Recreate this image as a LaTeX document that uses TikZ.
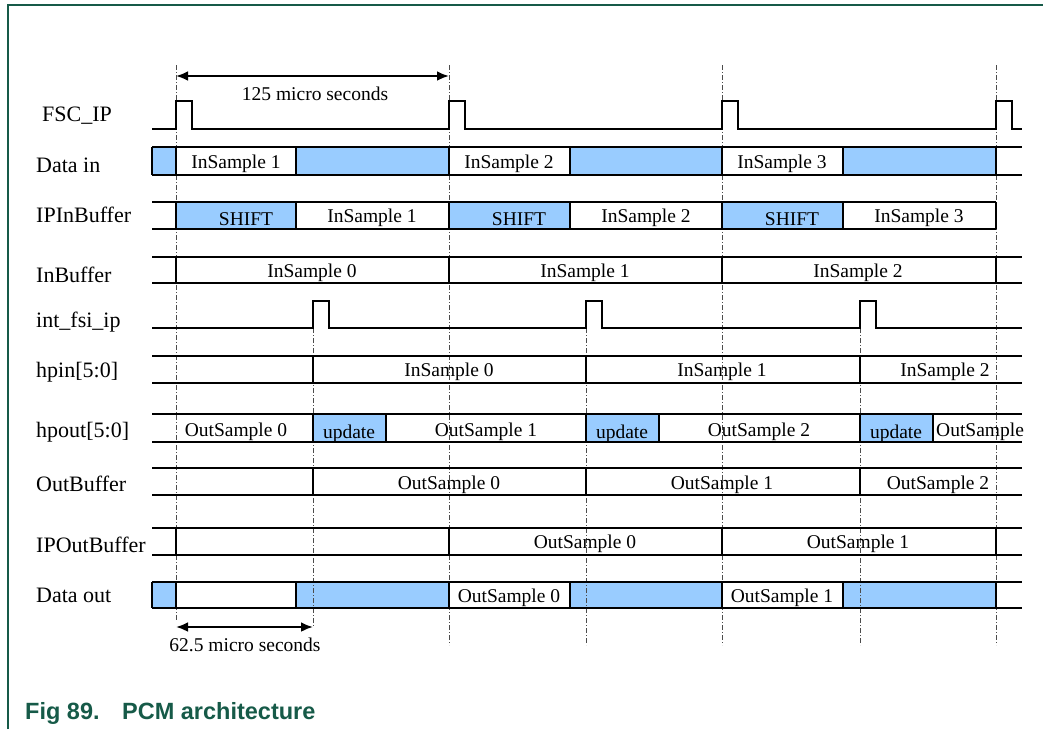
\documentclass[tikz,border=0pt]{standalone}
\usepackage{fontspec}
\setmainfont{Liberation Serif}
\newfontfamily\capfont{Liberation Sans}
\usetikzlibrary{arrows.meta}
\definecolor{boxblue}{HTML}{99CCFF}
\definecolor{framecol}{RGB}{22,90,72}
\newcommand\lblfont{\fontsize{22}{26}\selectfont}
\newcommand\txtfont{\fontsize{19.5}{23}\selectfont}
\newcommand\capsize{\fontsize{23.5}{27}\selectfont}
\tikzset{
  sig/.style={line width=2.3pt, draw=black, line join=miter},
  bluefill/.style={fill=boxblue, draw=none},
  guide/.style={draw=black!70, line width=0.9pt, dash pattern=on 5pt off 2pt on 1pt off 2pt},
  lbl/.style={font=\lblfont, anchor=base west, inner sep=0pt},
  txt/.style={font=\txtfont, anchor=base, inner sep=0pt},
  dimarrow/.style={line width=2.6pt, {Latex[length=12pt,width=10pt]}-{Latex[length=12pt,width=10pt]}},
  captxt/.style={font=\capfont\bfseries\capsize, text=framecol, anchor=base west, inner sep=0pt},
}
\begin{document}
\begin{tikzpicture}[x=1pt,y=-1pt]
\useasboundingbox (0,0) rectangle (1062,729);
% frame
\draw[framecol, line width=1.8pt] (8,729) -- (8,5) -- (1043,5);
\node[captxt] (capA) at (25,719) {Fig 89.};
\node[captxt] (capB) at (122,719) {PCM architecture};

% blue fills
\foreach \ya/\yb in {147/175, 582/608}{
  \fill[bluefill] (152,\ya) rectangle (176,\yb);
  \fill[bluefill] (296,\ya) rectangle (449,\yb);
  \fill[bluefill] (570,\ya) rectangle (722,\yb);
  \fill[bluefill] (843,\ya) rectangle (996,\yb);
}
\foreach \xa/\xb in {176/296, 449/570, 722/843}
  \fill[bluefill] (\xa,202) rectangle (\xb,229);
\foreach \xa/\xb in {313/386, 586/659, 860/933}
  \fill[bluefill] (\xa,414) rectangle (\xb,442);

% guides
\foreach \x in {449,722,996} \draw[guide] (\x,65) -- (\x,645);
\draw[guide] (176,65) -- (176,620);
\draw[guide] (313,328) -- (313,627);
\foreach \x in {586,860} \draw[guide] (\x,328) -- (\x,645);

% FSC_IP
\draw[sig] (152,129) -- (176,129) -- (176,101) -- (192,101) -- (192,129)
  -- (449,129) -- (449,101) -- (465,101) -- (465,129)
  -- (722,129) -- (722,101) -- (738,101) -- (738,129)
  -- (996,129) -- (996,101) -- (1012,101) -- (1012,129) -- (1022,129);
% int_fsi_ip
\draw[sig] (152,328) -- (313,328) -- (313,301) -- (329,301) -- (329,328)
  -- (586,328) -- (586,301) -- (602,301) -- (602,328)
  -- (860,328) -- (860,301) -- (876,301) -- (876,328) -- (1022,328);

% Data in / Data out
\foreach \ya/\yb in {147/175, 582/608}{
  \draw[sig] (152,\ya) -- (1022,\ya);
  \draw[sig] (152,\yb) -- (1022,\yb);
  \foreach \x in {152,176,296,449,570,722,843,996} \draw[sig] (\x,\ya) -- (\x,\yb);
}
% IPInBuffer
\draw[sig] (152,202) -- (996,202);
\draw[sig] (152,229) -- (996,229);
\foreach \x in {176,296,449,570,722,843,996} \draw[sig] (\x,202) -- (\x,229);
% InBuffer, IPOutBuffer
\foreach \ya/\yb in {257/283, 528/555}{
  \draw[sig] (152,\ya) -- (1022,\ya);
  \draw[sig] (152,\yb) -- (1022,\yb);
  \foreach \x in {176,449,722,996} \draw[sig] (\x,\ya) -- (\x,\yb);
}
% hpin, OutBuffer
\foreach \ya/\yb in {356/383, 468/495}{
  \draw[sig] (152,\ya) -- (1022,\ya);
  \draw[sig] (152,\yb) -- (1022,\yb);
  \foreach \x in {313,586,860} \draw[sig] (\x,\ya) -- (\x,\yb);
}
% hpout
\draw[sig] (152,414) -- (1022,414);
\draw[sig] (152,442) -- (1022,442);
\foreach \x in {313,386,586,659,860,933} \draw[sig] (\x,414) -- (\x,442);

% dimension arrows
\coordinate (d1a) at (176,76);
\coordinate (d1b) at (449,76);
\coordinate (d2a) at (176,627);
\coordinate (d2b) at (313,627);
\draw[dimarrow] (d1a) -- (d1b);
\draw[dimarrow] (d2a) -- (d2b);
\node[txt] (t125) at (315,100) {125 micro seconds};
\node[txt] (t625) at (245,651) {62.5 micro seconds};

% labels
\node[lbl] (lFSC) at (42,121) {FSC\_IP};
\node[lbl] (lDin) at (36,172) {Data in};
\node[lbl] (lIPIn) at (36,222) {IPInBuffer};
\node[lbl] (lInB) at (36,282) {InBuffer};
\node[lbl] (lfsi) at (36,327) {int\_fsi\_ip};
\node[lbl] (lhpin) at (36,377) {hpin[5:0]};
\node[lbl] (lhpout) at (36,437) {hpout[5:0]};
\node[lbl] (lOutB) at (36,491) {OutBuffer};
\node[lbl] (lIPOut) at (36,552) {IPOutBuffer};
\node[lbl] (lDout) at (36,602) {Data out};

% Data in texts
\node[txt] (di1) at (236,168) {InSample 1};
\node[txt] (di2) at (509,168) {InSample 2};
\node[txt] (di3) at (782,168) {InSample 3};
% IPInBuffer texts
\node[txt] (ip1) at (246,225) {SHIFT};
\node[txt] (ip2) at (372,222.5) {InSample 1};
\node[txt] (ip3) at (519,225) {SHIFT};
\node[txt] (ip4) at (646,222.5) {InSample 2};
\node[txt] (ip5) at (792,225) {SHIFT};
\node[txt] (ip6) at (919,222.5) {InSample 3};
% InBuffer texts
\node[txt] (ib0) at (312,277) {InSample 0};
\node[txt] (ib1) at (585,277) {InSample 1};
\node[txt] (ib2) at (858,277) {InSample 2};
% hpin texts
\node[txt] (hi0) at (449,376) {InSample 0};
\node[txt] (hi1) at (722,376) {InSample 1};
\node[txt] (hi2) at (945,376) {InSample 2};
% hpout texts
\node[txt] (ho0) at (236,436) {OutSample 0};
\node[txt] (hu1) at (349,438) {update};
\node[txt] (ho1) at (486,436) {OutSample 1};
\node[txt] (hu2) at (622,438) {update};
\node[txt] (ho2) at (759,436) {OutSample 2};
\node[txt] (hu3) at (896,438) {update};
\node[txt, anchor=base west] (ho3) at (936,436) {OutSample};
% OutBuffer texts
\node[txt] (ob0) at (449,489) {OutSample 0};
\node[txt] (ob1) at (722,489) {OutSample 1};
\node[txt] (ob2) at (938,489) {OutSample 2};
% IPOutBuffer texts
\node[txt] (po0) at (585,548.5) {OutSample 0};
\node[txt] (po1) at (858,548.5) {OutSample 1};
% Data out texts
\node[txt] (do0) at (509,602) {OutSample 0};
\node[txt] (do1) at (782,602) {OutSample 1};
\end{tikzpicture}
\end{document}
